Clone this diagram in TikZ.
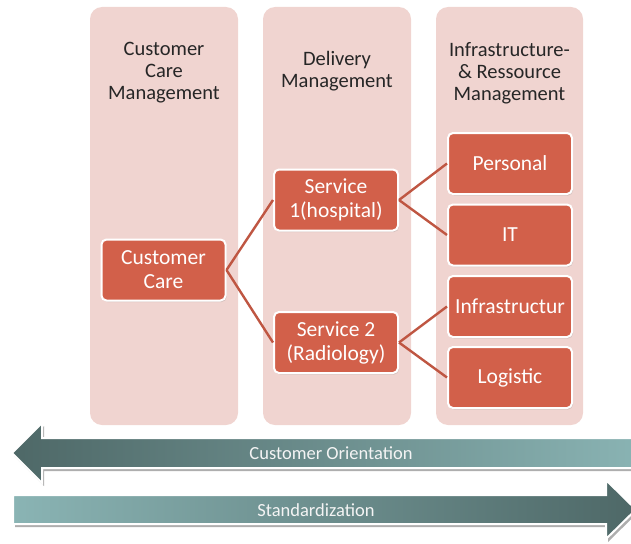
\documentclass[tikz,border=0pt]{standalone}
\usepackage{fontspec}
\setmainfont{Carlito}
\usetikzlibrary{shadows}

\definecolor{lanefill}{HTML}{F0D4D0}
\definecolor{boxfill}{HTML}{D2604A}
\definecolor{linkcol}{HTML}{BF5642}
\definecolor{arrowdark}{HTML}{4E6867}
\definecolor{arrowlight}{HTML}{8AB4B4}
\definecolor{headtext}{HTML}{262626}
\definecolor{arrowtext}{HTML}{F4F4F4}

\tikzset{
  lane/.style={fill=lanefill, draw=none, rounded corners=12pt},
  lanehead/.style={align=center, text=headtext, inner sep=0pt,
    font=\fontsize{20.5}{22}\selectfont},
  unit/.style={draw=white, line width=2pt, fill=boxfill, rounded corners=5pt,
    minimum width=124pt, minimum height=61pt, inner sep=1pt, align=center,
    text=white, font=\fontsize{21.5}{24}\selectfont,
    drop shadow={shadow xshift=1pt, shadow yshift=-1.5pt, opacity=0.25}},
  link/.style={draw=linkcol, line width=2.4pt},
  bigarrow/.style={draw=white, line width=2pt, line join=miter,
    drop shadow={shadow xshift=2pt, shadow yshift=-3pt, opacity=0.45, fill=black!70}},
  arrowlabel/.style={text=arrowtext, inner sep=0pt,
    font=\fontsize{18.5}{20}\selectfont}
}

\begin{document}
\begin{tikzpicture}[x=1pt, y=-1pt]
  \useasboundingbox (0,0) rectangle (631,543);

  % three management lanes
  \fill[lane] (90,7) rectangle (238,425);
  \fill[lane] (263,7) rectangle (411,425);
  \fill[lane] (436,7) rectangle (583,425);

  \node[lanehead] (h1) at (164,73) {Customer\\Care\\Management};
  \node[lanehead] (h2) at (337,71) {Delivery\\Management};
  \node[lanehead] (h3) at (509.5,73) {Infrastructure-\\\& Ressource\\Management};

  % units
  \node[unit] (cc) at (163.5,270) {Customer\\Care};
  \node[unit] (s1) at (336,200) {Service\\1(hospital)};
  \node[unit] (s2) at (336,342.5) {Service 2\\(Radiology)};
  \node[unit] (pers) at (510,163.5) {Personal};
  \node[unit] (it) at (510,235) {IT};
  \node[unit] (infra) at (510,306.5) {Infrastructur};
  \node[unit] (logi) at (510,377.5) {Logistic};

  % connectors between the units
  \draw[link] (cc.east) -- (s1.west);
  \draw[link] (cc.east) -- (s2.west);
  \draw[link] (s1.east) -- (pers.west);
  \draw[link] (s1.east) -- (it.west);
  \draw[link] (s2.east) -- (infra.west);
  \draw[link] (s2.east) -- (logi.west);

  % customer orientation arrow (pointing left)
  \path[bigarrow, left color=arrowdark, right color=arrowlight]
    (12,453) -- (42,423) -- (42,438) -- (645,438) -- (645,468)
    -- (42,468) -- (42,483) -- cycle;
  \node[arrowlabel] (co) at (331,453) {Customer Orientation};

  % standardization arrow (pointing right)
  \path[bigarrow, left color=arrowlight, right color=arrowdark]
    (13,495) -- (606,495) -- (606,480) -- (636,509.5) -- (606,539)
    -- (606,524) -- (13,524) -- cycle;
  \node[arrowlabel] (st) at (316,510) {Standardization};
\end{tikzpicture}
\end{document}
